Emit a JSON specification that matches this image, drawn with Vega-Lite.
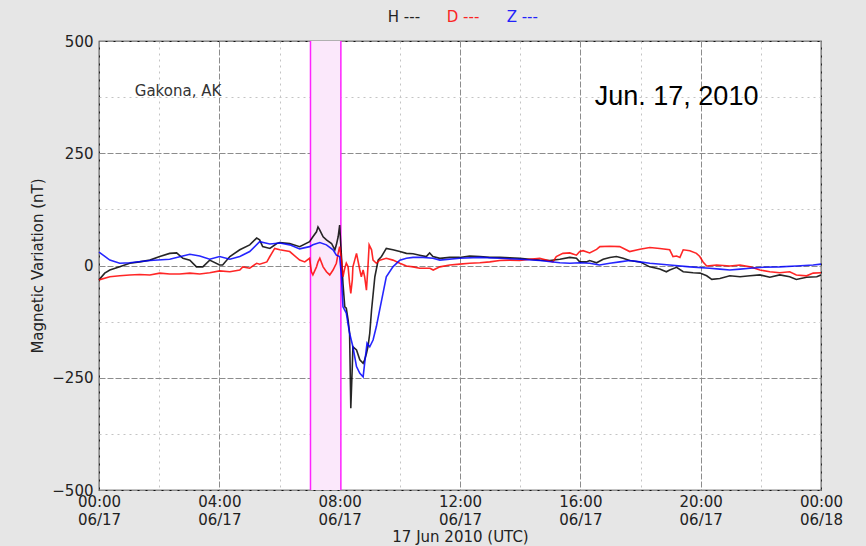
{
  "$schema": "https://vega.github.io/schema/vega-lite/v6.json",
  "width": 722,
  "height": 449,
  "autosize": {"type": "none"},
  "padding": {"left": 99, "top": 41, "right": 45, "bottom": 56},
  "background": "#e6e6e6",
  "config": {
    "view": {"stroke": "#111111", "strokeWidth": 1.2, "fill": "#ffffff"},
    "font": "DejaVu Sans"
  },
  "layer": [
    {
      "data": {"values": [{"start": 7.03, "end": 8.04}]},
      "mark": {"type": "rect", "fill": "#fbe8fb"},
      "encoding": {
        "x": {"field": "start", "type": "quantitative"},
        "x2": {"field": "end"}
      }
    },
    {
      "data": {"values": [{"t": 7.03}, {"t": 8.04}]},
      "mark": {"type": "rule", "color": "#ff22ff", "strokeWidth": 1.5},
      "encoding": {
        "x": {"field": "t", "type": "quantitative"}
      }
    },
    {
      "data": {"values": [
        {"t":0.0,"v":-32,"c":"H"},{"t":0.19,"v":-17,"c":"H"},{"t":0.36,"v":-10,"c":"H"},{"t":0.69,"v":-3,"c":"H"},{"t":1.02,"v":5,"c":"H"},{"t":1.35,"v":8,"c":"H"},{"t":1.69,"v":12,"c":"H"},{"t":2.02,"v":20,"c":"H"},{"t":2.35,"v":27,"c":"H"},{"t":2.58,"v":28,"c":"H"},{"t":2.79,"v":16,"c":"H"},{"t":3.02,"v":12,"c":"H"},{"t":3.24,"v":-3,"c":"H"},{"t":3.45,"v":-3,"c":"H"},{"t":3.68,"v":12,"c":"H"},{"t":4.01,"v":1,"c":"H"},{"t":4.11,"v":1,"c":"H"},{"t":4.35,"v":20,"c":"H"},{"t":4.68,"v":35,"c":"H"},{"t":5.01,"v":46,"c":"H"},{"t":5.24,"v":61,"c":"H"},{"t":5.34,"v":57,"c":"H"},{"t":5.44,"v":42,"c":"H"},{"t":5.68,"v":38,"c":"H"},{"t":5.91,"v":49,"c":"H"},{"t":6.01,"v":51,"c":"H"},{"t":6.34,"v":49,"c":"H"},{"t":6.67,"v":42,"c":"H"},{"t":7.0,"v":53,"c":"H"},{"t":7.11,"v":64,"c":"H"},{"t":7.23,"v":75,"c":"H"},{"t":7.28,"v":86,"c":"H"},{"t":7.34,"v":79,"c":"H"},{"t":7.45,"v":64,"c":"H"},{"t":7.56,"v":57,"c":"H"},{"t":7.73,"v":49,"c":"H"},{"t":7.84,"v":35,"c":"H"},{"t":7.89,"v":46,"c":"H"},{"t":7.95,"v":64,"c":"H"},{"t":8.0,"v":90,"c":"H"},{"t":8.06,"v":20,"c":"H"},{"t":8.11,"v":-40,"c":"H"},{"t":8.17,"v":-92,"c":"H"},{"t":8.22,"v":-95,"c":"H"},{"t":8.28,"v":-121,"c":"H"},{"t":8.33,"v":-151,"c":"H"},{"t":8.37,"v":-318,"c":"H"},{"t":8.42,"v":-225,"c":"H"},{"t":8.44,"v":-181,"c":"H"},{"t":8.56,"v":-188,"c":"H"},{"t":8.67,"v":-210,"c":"H"},{"t":8.78,"v":-218,"c":"H"},{"t":8.83,"v":-210,"c":"H"},{"t":8.89,"v":-196,"c":"H"},{"t":8.94,"v":-181,"c":"H"},{"t":9.0,"v":-151,"c":"H"},{"t":9.06,"v":-99,"c":"H"},{"t":9.17,"v":-25,"c":"H"},{"t":9.28,"v":12,"c":"H"},{"t":9.39,"v":20,"c":"H"},{"t":9.55,"v":38,"c":"H"},{"t":9.77,"v":35,"c":"H"},{"t":10.0,"v":31,"c":"H"},{"t":10.22,"v":27,"c":"H"},{"t":10.44,"v":26,"c":"H"},{"t":10.66,"v":23,"c":"H"},{"t":10.88,"v":20,"c":"H"},{"t":10.99,"v":28,"c":"H"},{"t":11.1,"v":20,"c":"H"},{"t":11.33,"v":16,"c":"H"},{"t":11.66,"v":18,"c":"H"},{"t":11.99,"v":18,"c":"H"},{"t":12.32,"v":21,"c":"H"},{"t":12.66,"v":20,"c":"H"},{"t":12.99,"v":18,"c":"H"},{"t":13.32,"v":18,"c":"H"},{"t":13.66,"v":17,"c":"H"},{"t":13.99,"v":16,"c":"H"},{"t":14.32,"v":14,"c":"H"},{"t":14.65,"v":12,"c":"H"},{"t":14.99,"v":11,"c":"H"},{"t":15.32,"v":14,"c":"H"},{"t":15.65,"v":18,"c":"H"},{"t":15.87,"v":16,"c":"H"},{"t":15.98,"v":8,"c":"H"},{"t":16.2,"v":8,"c":"H"},{"t":16.31,"v":11,"c":"H"},{"t":16.54,"v":6,"c":"H"},{"t":16.76,"v":14,"c":"H"},{"t":16.98,"v":18,"c":"H"},{"t":17.2,"v":20,"c":"H"},{"t":17.42,"v":16,"c":"H"},{"t":17.64,"v":11,"c":"H"},{"t":17.98,"v":8,"c":"H"},{"t":18.31,"v":-3,"c":"H"},{"t":18.64,"v":-8,"c":"H"},{"t":18.86,"v":-14,"c":"H"},{"t":18.97,"v":-10,"c":"H"},{"t":19.2,"v":-4,"c":"H"},{"t":19.42,"v":-14,"c":"H"},{"t":19.75,"v":-16,"c":"H"},{"t":19.98,"v":-17,"c":"H"},{"t":20.2,"v":-23,"c":"H"},{"t":20.37,"v":-31,"c":"H"},{"t":20.64,"v":-29,"c":"H"},{"t":20.97,"v":-23,"c":"H"},{"t":21.31,"v":-25,"c":"H"},{"t":21.64,"v":-23,"c":"H"},{"t":21.97,"v":-21,"c":"H"},{"t":22.3,"v":-26,"c":"H"},{"t":22.63,"v":-21,"c":"H"},{"t":22.96,"v":-25,"c":"H"},{"t":23.18,"v":-31,"c":"H"},{"t":23.52,"v":-26,"c":"H"},{"t":23.86,"v":-25,"c":"H"},{"t":24.0,"v":-21,"c":"H"},

        {"t":0.0,"v":-32,"c":"D"},{"t":0.36,"v":-25,"c":"D"},{"t":0.69,"v":-23,"c":"D"},{"t":1.02,"v":-21,"c":"D"},{"t":1.35,"v":-20,"c":"D"},{"t":1.69,"v":-21,"c":"D"},{"t":2.02,"v":-17,"c":"D"},{"t":2.35,"v":-19,"c":"D"},{"t":2.68,"v":-19,"c":"D"},{"t":3.02,"v":-17,"c":"D"},{"t":3.35,"v":-19,"c":"D"},{"t":3.68,"v":-16,"c":"D"},{"t":4.01,"v":-12,"c":"D"},{"t":4.35,"v":-14,"c":"D"},{"t":4.68,"v":-10,"c":"D"},{"t":4.78,"v":-3,"c":"D"},{"t":5.01,"v":-6,"c":"D"},{"t":5.24,"v":5,"c":"D"},{"t":5.34,"v":3,"c":"D"},{"t":5.58,"v":8,"c":"D"},{"t":5.68,"v":20,"c":"D"},{"t":5.84,"v":38,"c":"D"},{"t":6.01,"v":35,"c":"D"},{"t":6.34,"v":31,"c":"D"},{"t":6.67,"v":12,"c":"D"},{"t":6.84,"v":8,"c":"D"},{"t":7.0,"v":16,"c":"D"},{"t":7.06,"v":-14,"c":"D"},{"t":7.11,"v":-21,"c":"D"},{"t":7.23,"v":-3,"c":"D"},{"t":7.28,"v":8,"c":"D"},{"t":7.34,"v":16,"c":"D"},{"t":7.45,"v":-3,"c":"D"},{"t":7.56,"v":-14,"c":"D"},{"t":7.67,"v":-21,"c":"D"},{"t":7.78,"v":-10,"c":"D"},{"t":7.89,"v":5,"c":"D"},{"t":7.95,"v":27,"c":"D"},{"t":8.0,"v":42,"c":"D"},{"t":8.06,"v":12,"c":"D"},{"t":8.11,"v":-25,"c":"D"},{"t":8.17,"v":-6,"c":"D"},{"t":8.22,"v":5,"c":"D"},{"t":8.28,"v":-3,"c":"D"},{"t":8.33,"v":-40,"c":"D"},{"t":8.37,"v":-62,"c":"D"},{"t":8.42,"v":-32,"c":"D"},{"t":8.44,"v":-3,"c":"D"},{"t":8.5,"v":12,"c":"D"},{"t":8.56,"v":27,"c":"D"},{"t":8.67,"v":-10,"c":"D"},{"t":8.72,"v":-25,"c":"D"},{"t":8.78,"v":-10,"c":"D"},{"t":8.83,"v":-25,"c":"D"},{"t":8.89,"v":-55,"c":"D"},{"t":8.94,"v":-3,"c":"D"},{"t":8.98,"v":46,"c":"D"},{"t":9.06,"v":35,"c":"D"},{"t":9.11,"v":12,"c":"D"},{"t":9.22,"v":5,"c":"D"},{"t":9.33,"v":12,"c":"D"},{"t":9.55,"v":16,"c":"D"},{"t":9.77,"v":12,"c":"D"},{"t":10.0,"v":5,"c":"D"},{"t":10.22,"v":-1,"c":"D"},{"t":10.44,"v":-3,"c":"D"},{"t":10.66,"v":-6,"c":"D"},{"t":10.88,"v":-6,"c":"D"},{"t":11.0,"v":-6,"c":"D"},{"t":11.11,"v":-10,"c":"D"},{"t":11.33,"v":-3,"c":"D"},{"t":11.66,"v":1,"c":"D"},{"t":11.99,"v":3,"c":"D"},{"t":12.32,"v":5,"c":"D"},{"t":12.66,"v":6,"c":"D"},{"t":12.99,"v":8,"c":"D"},{"t":13.32,"v":11,"c":"D"},{"t":13.66,"v":12,"c":"D"},{"t":13.99,"v":11,"c":"D"},{"t":14.32,"v":14,"c":"D"},{"t":14.65,"v":16,"c":"D"},{"t":14.87,"v":12,"c":"D"},{"t":15.09,"v":8,"c":"D"},{"t":15.2,"v":20,"c":"D"},{"t":15.42,"v":27,"c":"D"},{"t":15.65,"v":28,"c":"D"},{"t":15.87,"v":23,"c":"D"},{"t":15.98,"v":31,"c":"D"},{"t":16.09,"v":33,"c":"D"},{"t":16.31,"v":28,"c":"D"},{"t":16.54,"v":36,"c":"D"},{"t":16.65,"v":42,"c":"D"},{"t":16.98,"v":43,"c":"D"},{"t":17.31,"v":42,"c":"D"},{"t":17.64,"v":31,"c":"D"},{"t":17.98,"v":36,"c":"D"},{"t":18.31,"v":40,"c":"D"},{"t":18.64,"v":38,"c":"D"},{"t":18.97,"v":35,"c":"D"},{"t":19.08,"v":20,"c":"D"},{"t":19.2,"v":21,"c":"D"},{"t":19.31,"v":18,"c":"D"},{"t":19.42,"v":35,"c":"D"},{"t":19.64,"v":33,"c":"D"},{"t":19.86,"v":27,"c":"D"},{"t":19.97,"v":20,"c":"D"},{"t":20.08,"v":8,"c":"D"},{"t":20.2,"v":-1,"c":"D"},{"t":20.53,"v":1,"c":"D"},{"t":20.97,"v":-1,"c":"D"},{"t":21.31,"v":1,"c":"D"},{"t":21.64,"v":-3,"c":"D"},{"t":21.97,"v":-10,"c":"D"},{"t":22.3,"v":-14,"c":"D"},{"t":22.63,"v":-16,"c":"D"},{"t":22.96,"v":-14,"c":"D"},{"t":23.18,"v":-21,"c":"D"},{"t":23.52,"v":-23,"c":"D"},{"t":23.74,"v":-17,"c":"D"},{"t":24.0,"v":-16,"c":"D"},

        {"t":0.0,"v":30,"c":"Z"},{"t":0.36,"v":12,"c":"Z"},{"t":0.69,"v":5,"c":"Z"},{"t":1.02,"v":6,"c":"Z"},{"t":1.69,"v":11,"c":"Z"},{"t":2.35,"v":14,"c":"Z"},{"t":3.02,"v":25,"c":"Z"},{"t":3.35,"v":21,"c":"Z"},{"t":3.68,"v":14,"c":"Z"},{"t":4.01,"v":20,"c":"Z"},{"t":4.35,"v":14,"c":"Z"},{"t":4.68,"v":20,"c":"Z"},{"t":5.01,"v":31,"c":"Z"},{"t":5.34,"v":53,"c":"Z"},{"t":5.68,"v":48,"c":"Z"},{"t":6.01,"v":50,"c":"Z"},{"t":6.34,"v":46,"c":"Z"},{"t":6.67,"v":37,"c":"Z"},{"t":7.0,"v":42,"c":"Z"},{"t":7.11,"v":46,"c":"Z"},{"t":7.34,"v":51,"c":"Z"},{"t":7.56,"v":46,"c":"Z"},{"t":7.78,"v":35,"c":"Z"},{"t":7.89,"v":23,"c":"Z"},{"t":8.0,"v":20,"c":"Z"},{"t":8.06,"v":-25,"c":"Z"},{"t":8.11,"v":-92,"c":"Z"},{"t":8.22,"v":-106,"c":"Z"},{"t":8.33,"v":-151,"c":"Z"},{"t":8.44,"v":-181,"c":"Z"},{"t":8.56,"v":-225,"c":"Z"},{"t":8.67,"v":-240,"c":"Z"},{"t":8.78,"v":-248,"c":"Z"},{"t":8.83,"v":-218,"c":"Z"},{"t":8.91,"v":-173,"c":"Z"},{"t":9.0,"v":-181,"c":"Z"},{"t":9.11,"v":-166,"c":"Z"},{"t":9.22,"v":-136,"c":"Z"},{"t":9.33,"v":-99,"c":"Z"},{"t":9.44,"v":-62,"c":"Z"},{"t":9.55,"v":-25,"c":"Z"},{"t":9.77,"v":-3,"c":"Z"},{"t":10.0,"v":12,"c":"Z"},{"t":10.22,"v":16,"c":"Z"},{"t":10.44,"v":18,"c":"Z"},{"t":10.77,"v":18,"c":"Z"},{"t":11.1,"v":16,"c":"Z"},{"t":11.33,"v":12,"c":"Z"},{"t":11.99,"v":16,"c":"Z"},{"t":12.66,"v":18,"c":"Z"},{"t":13.32,"v":16,"c":"Z"},{"t":13.99,"v":14,"c":"Z"},{"t":14.65,"v":11,"c":"Z"},{"t":15.32,"v":6,"c":"Z"},{"t":15.65,"v":5,"c":"Z"},{"t":15.98,"v":6,"c":"Z"},{"t":16.31,"v":5,"c":"Z"},{"t":16.64,"v":1,"c":"Z"},{"t":16.98,"v":5,"c":"Z"},{"t":17.31,"v":8,"c":"Z"},{"t":17.64,"v":11,"c":"Z"},{"t":17.98,"v":8,"c":"Z"},{"t":18.31,"v":5,"c":"Z"},{"t":18.97,"v":1,"c":"Z"},{"t":19.64,"v":-3,"c":"Z"},{"t":20.3,"v":-6,"c":"Z"},{"t":20.64,"v":-8,"c":"Z"},{"t":20.97,"v":-10,"c":"Z"},{"t":21.31,"v":-8,"c":"Z"},{"t":21.64,"v":-6,"c":"Z"},{"t":22.08,"v":-4,"c":"Z"},{"t":22.63,"v":-3,"c":"Z"},{"t":23.18,"v":-1,"c":"Z"},{"t":23.74,"v":1,"c":"Z"},{"t":24.0,"v":3,"c":"Z"}
      ]},
      "mark": {"type": "line", "strokeWidth": 1.6, "opacity": 0.85},
      "encoding": {
        "x": {
          "field": "t", "type": "quantitative",
          "scale": {"domain": [0, 24], "nice": false, "zero": false},
          "axis": {
            "values": [0,1,2,3,4,5,6,7,8,9,10,11,12,13,14,15,16,17,18,19,20,21,22,23,24],
            "labelExpr": "datum.value % 4 === 0 ? [((datum.value % 24) < 10 ? '0' : '') + (datum.value % 24) + ':00', datum.value === 24 ? '06/18' : '06/17'] : ''",
            "grid": true,
            "gridColor": {"condition": {"test": "datum.value % 4 === 0", "value": "#8c8c8c"}, "value": "#c4c4c4"},
            "gridDash": {"condition": {"test": "datum.value % 4 === 0", "value": [6, 2]}, "value": [2, 4]},
            "gridWidth": 1,
            "ticks": false,
            "domain": false,
            "labelFlush": false,
            "labelOverlap": false,
            "labelPadding": 4,
            "labelFont": "DejaVu Sans",
            "labelFontSize": 15,
            "labelColor": "#222222",
            "labelLineHeight": 18,
            "title": "17 Jun 2010 (UTC)",
            "titleFont": "DejaVu Sans",
            "titleFontSize": 15,
            "titleFontWeight": "normal",
            "titleColor": "#222222",
            "titlePadding": 2
          }
        },
        "y": {
          "field": "v", "type": "quantitative",
          "scale": {"domain": [-500, 500], "nice": false, "zero": false},
          "axis": {
            "values": [-500, -375, -250, -125, 0, 125, 250, 375, 500],
            "format": "d",
            "labelExpr": "datum.value % 250 === 0 ? datum.label : ''",
            "grid": true,
            "gridColor": {"condition": {"test": "datum.value % 250 === 0", "value": "#8c8c8c"}, "value": "#c4c4c4"},
            "gridDash": {"condition": {"test": "datum.value % 250 === 0", "value": [6, 2]}, "value": [2, 4]},
            "ticks": false,
            "domain": false,
            "labelPadding": 6,
            "labelFont": "DejaVu Sans",
            "labelFontSize": 15,
            "labelColor": "#222222",
            "title": "Magnetic Variation (nT)",
            "titleFont": "DejaVu Sans",
            "titleFontSize": 15,
            "titleFontWeight": "normal",
            "titleColor": "#222222",
            "titlePadding": 6
          }
        },
        "color": {
          "field": "c", "type": "nominal",
          "scale": {"domain": ["H", "D", "Z"], "range": ["#000000", "#ff0000", "#0000ff"]},
          "legend": null
        }
      }
    },
    {
      "data": {"values": [
        {"c": "H", "label": "H ---", "t": 9.6, "v": 553},
        {"c": "D", "label": "D ---", "t": 11.56, "v": 553},
        {"c": "Z", "label": "Z ---", "t": 13.55, "v": 553}
      ]},
      "mark": {"type": "text", "align": "left", "baseline": "middle", "font": "DejaVu Sans", "fontSize": 15, "opacity": 0.85},
      "encoding": {
        "x": {"field": "t", "type": "quantitative"},
        "y": {"field": "v", "type": "quantitative"},
        "color": {"field": "c", "type": "nominal", "legend": null},
        "text": {"field": "label"}
      }
    },
    {
      "data": {"values": [{"t": 1.19, "v": 389, "label": "Gakona, AK"}]},
      "mark": {"type": "text", "align": "left", "baseline": "middle", "font": "DejaVu Sans", "fontSize": 15, "color": "#333333"},
      "encoding": {
        "x": {"field": "t", "type": "quantitative"},
        "y": {"field": "v", "type": "quantitative"},
        "text": {"field": "label"}
      }
    },
    {
      "data": {"values": [{"t": 16.48, "v": 357, "label": "Jun. 17, 2010"}]},
      "mark": {"type": "text", "align": "left", "baseline": "alphabetic", "font": "Liberation Sans", "fontSize": 27, "color": "#000000"},
      "encoding": {
        "x": {"field": "t", "type": "quantitative"},
        "y": {"field": "v", "type": "quantitative"},
        "text": {"field": "label"}
      }
    }
  ]
}
